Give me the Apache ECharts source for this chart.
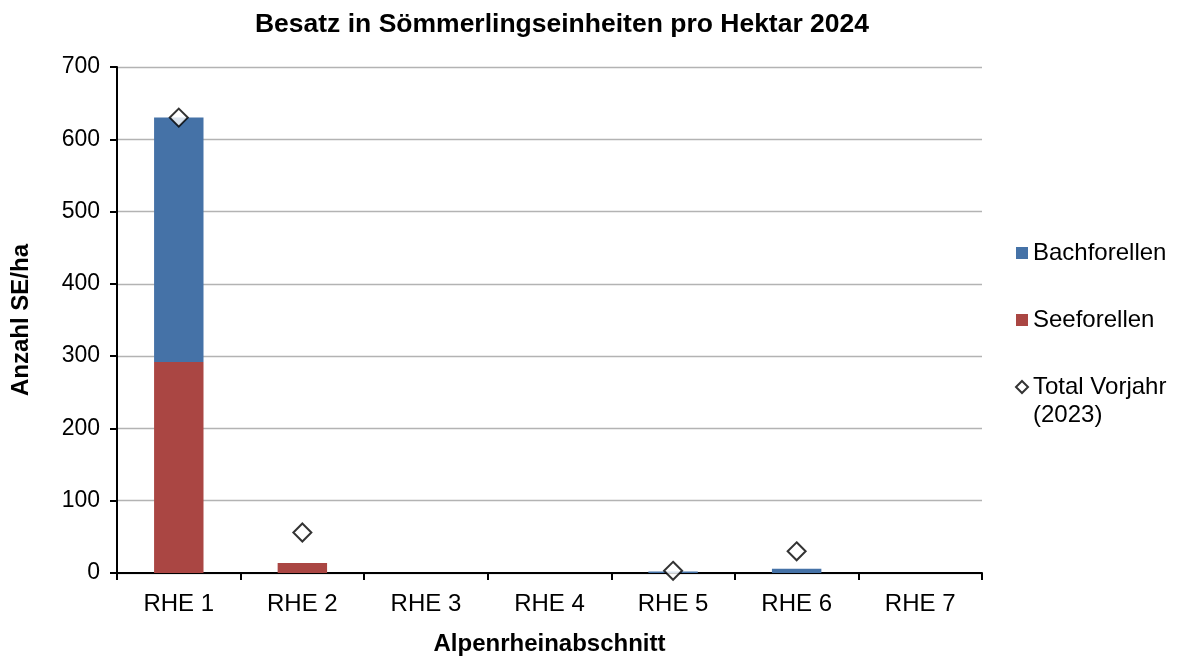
<!DOCTYPE html>
<html>
<head>
<meta charset="utf-8">
<script src="https://cdn.jsdelivr.net/npm/echarts@6/dist/echarts.min.js"></script>
<style>
  html, body { margin: 0; padding: 0; background: #fff; }
  #chart { width: 1183px; height: 657px; }
</style>
</head>
<body>
<div id="chart"></div>
<script>
  // Daten
  var abschnitte = ['RHE 1', 'RHE 2', 'RHE 3', 'RHE 4', 'RHE 5', 'RHE 6', 'RHE 7'];
  var seeforellen = [292, 14, 0, 0, 0, 0, 0];
  var bachforellen = [338, 0, 0, 0, 2, 6, 0];
  var vorjahr = [630, 56, null, null, 3, 30, null];
  var yTicks = [0, 100, 200, 300, 400, 500, 600, 700];

  var myChart = echarts.init(document.getElementById('chart'));
  var schrift = 'Liberation Sans, Arial, sans-serif';

  var option = {
    animation: false,
    textStyle: { fontFamily: schrift, color: '#000' },
    title: {
      text: 'Besatz in Sömmerlingseinheiten pro Hektar 2024',
      left: 557,
      textAlign: 'center',
      top: 6,
      textStyle: { fontSize: 26.5, fontWeight: 'bold', color: '#000', fontFamily: schrift }
    },
    legend: {
      orient: 'vertical',
      left: 1010,
      top: 236,
      itemGap: 43,
      itemWidth: 12,
      itemHeight: 12,
      textStyle: { fontSize: 24, color: '#000', fontFamily: schrift, lineHeight: 24 },
      data: [
        { name: 'Bachforellen', icon: 'rect' },
        { name: 'Seeforellen', icon: 'rect' },
        { name: 'Total Vorjahr', icon: 'diamond' }
      ]
    },
    graphic: [{
      type: 'text',
      left: 1033,
      top: 403,
      style: { text: '(2023)', fontSize: 24, fill: '#000', fontFamily: schrift }
    }],
    grid: { left: 117, right: 201, top: 67, bottom: 84, containLabel: false, outerBoundsMode: 'none' },
    xAxis: {
      type: 'category',
      data: abschnitte,
      name: 'Alpenrheinabschnitt',
      nameLocation: 'middle',
      nameGap: 59,
      nameTextStyle: { fontSize: 24, fontWeight: 'bold', color: '#000', fontFamily: schrift },
      axisLine: { lineStyle: { color: '#000', width: 2 } },
      axisTick: { show: true, length: 7, lineStyle: { color: '#000', width: 2 } },
      axisLabel: { fontSize: 24, color: '#000', margin: 19, fontFamily: schrift }
    },
    yAxis: {
      type: 'value',
      min: yTicks[0],
      max: yTicks[yTicks.length - 1],
      interval: 100,
      name: 'Anzahl SE/ha',
      nameLocation: 'middle',
      nameRotate: 90,
      nameGap: 84,
      nameTextStyle: { fontSize: 24, fontWeight: 'bold', color: '#000', fontFamily: schrift },
      axisLine: { show: true, lineStyle: { color: '#000', width: 2 } },
      axisTick: { show: true, length: 7, lineStyle: { color: '#000', width: 2 } },
      axisLabel: { fontSize: 23, color: '#000', margin: 17, fontFamily: schrift },
      splitLine: { lineStyle: { color: '#b3b3b3', width: 1.3 } }
    },
    series: [
      {
        name: 'Seeforellen',
        type: 'bar',
        stack: 'gesamt',
        barWidth: '40%',
        itemStyle: { color: '#AA4643' },
        data: seeforellen
      },
      {
        name: 'Bachforellen',
        type: 'bar',
        stack: 'gesamt',
        barWidth: '40%',
        itemStyle: { color: '#4572A7' },
        data: bachforellen
      },
      {
        name: 'Total Vorjahr',
        type: 'scatter',
        symbol: 'diamond',
        symbolSize: 18,
        z: 5,
        itemStyle: { color: '#fff', borderColor: '#000', borderWidth: 2 },
        data: vorjahr
      }
    ]
  };

  myChart.setOption(option);
</script>
</body>
</html>
